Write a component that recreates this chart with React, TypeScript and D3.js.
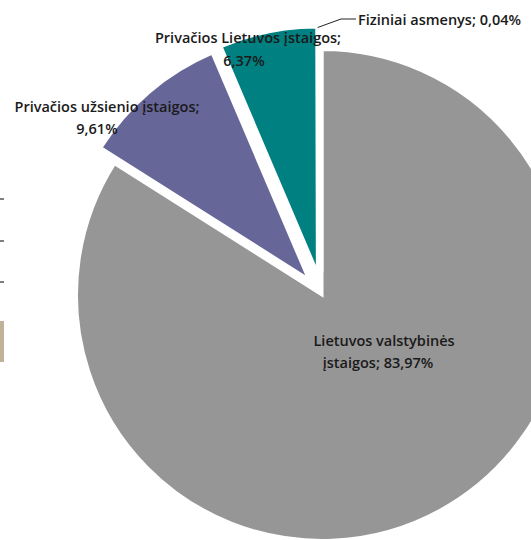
import React from "react";
import * as d3 from "d3";

const categories = [
  "Lietuvos valstybinės įstaigos",
  "Privačios užsienio įstaigos",
  "Privačios Lietuvos įstaigos",
  "Fiziniai asmenys",
];
const values = [83.97, 9.61, 6.37, 0.04];
const valueLabels = ["83,97%", "9,61%", "6,37%", "0,04%"];
const colors = ["#969696", "#666699", "#008080", "#c0b298"];
const explode = [0, 21, 23, 23];

// label lines (text, center x, baseline y)
const labelLines: { text: string; x: number; y: number; anchor: string }[] = [
  { text: "Privačios Lietuvos įstaigos;", x: 248, y: 43, anchor: "middle" },
  { text: "6,37%", x: 244, y: 66, anchor: "middle" },
  { text: "Privačios užsienio įstaigos;", x: 107, y: 112, anchor: "middle" },
  { text: "9,61%", x: 97, y: 134, anchor: "middle" },
  { text: "Lietuvos valstybinės", x: 384, y: 346, anchor: "middle" },
  { text: "įstaigos; 83,97%", x: 378, y: 368, anchor: "middle" },
  { text: "Fiziniai asmenys; 0,04%", x: 358, y: 25, anchor: "start" },
];

export default function App() {
  const W = 531;
  const H = 540;
  const cx = 322;
  const cy = 295;
  const r = 245.5;

  const pie = d3
    .pie<number>()
    .sort(null)
    .value((d) => d)
    .startAngle(0)
    .endAngle(2 * Math.PI);
  const arcs = pie(values);
  const arcGen = d3.arc<d3.PieArcDatum<number>>().innerRadius(0).outerRadius(r);

  const offsets = arcs.map((a, i) => {
    const mid = (a.startAngle + a.endAngle) / 2;
    return [Math.sin(mid) * explode[i], -Math.cos(mid) * explode[i]];
  });

  const fz = arcs[3];
  const fzMid = (fz.startAngle + fz.endAngle) / 2;
  const lx0 = cx + offsets[3][0] + Math.sin(fzMid) * r - 4;
  const ly0 = cy + offsets[3][1] - Math.cos(fzMid) * r + 1;
  const leader = d3.line()([
    [lx0, ly0],
    [341, 19],
    [356, 19],
  ]);

  return (
    <svg
      width={W}
      height={H}
      style={{ position: "absolute", left: 0, top: 0, background: "#fff" }}
      fontFamily="'Open Sans', sans-serif"
      fontSize={14.5}
      fontWeight={600}
    >
      {[198, 240, 281].map((y) => (
        <rect key={y} x={0} y={y} width={4} height={2} fill="#808080" />
      ))}
      <rect x={0} y={321} width={4} height={41} fill="#c0b298" />

      <g transform={`translate(${cx},${cy})`}>
        {arcs.map((a, i) => (
          <path
            key={categories[i]}
            d={arcGen(a) || ""}
            transform={`translate(${offsets[i][0]},${offsets[i][1]})`}
            fill={colors[i]}
            stroke="#fff"
            strokeWidth={3}
            strokeLinejoin="miter"
          />
        ))}
      </g>

      <path d={leader || ""} fill="none" stroke="#222" strokeWidth={1} />

      {labelLines.map((l, i) => (
        <text
          key={i}
          x={l.x}
          y={l.y}
          textAnchor={l.anchor as any}
          fill="#1a1a1a"
        >
          {l.text}
        </text>
      ))}
    </svg>
  );
}
